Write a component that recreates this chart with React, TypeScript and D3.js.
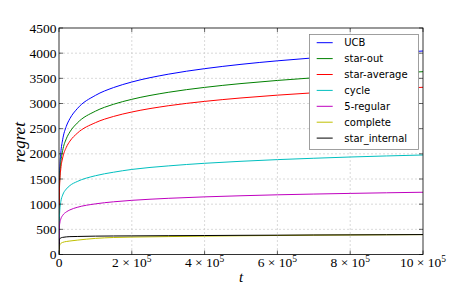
import React from "react";
import * as d3 from "d3";

const tValues = [0, 1000, 2000, 5000, 10000, 20000, 30000, 50000, 100000, 150000, 200000, 300000, 400000, 500000, 600000, 700000, 800000, 900000, 1000000];

const ucb = [0, 1398, 1663, 2014, 2279, 2545, 2700, 2896, 3161, 3317, 3427, 3582, 3692, 3778, 3848, 3907, 3958, 4003, 4043];
const starOut = [0, 1277, 1513, 1825, 2062, 2298, 2436, 2611, 2847, 2985, 3083, 3222, 3320, 3396, 3458, 3511, 3556, 3596, 3632];
const starAverage = [0, 1215, 1426, 1706, 1917, 2128, 2252, 2408, 2619, 2743, 2831, 2955, 3042, 3110, 3166, 3213, 3254, 3290, 3322];
const cycle = [0, 700, 860, 1050, 1180, 1300, 1370, 1450, 1565, 1635, 1690, 1760, 1812, 1852, 1885, 1912, 1937, 1958, 1977];
const fiveRegular = [0, 546, 615, 707, 776, 845, 886, 937, 1006, 1047, 1076, 1116, 1145, 1167, 1186, 1201, 1214, 1226, 1237];
const complete = [0, 150, 185, 220, 240, 258, 268, 285, 320, 338, 346, 356, 365, 372, 378, 384, 388, 392, 395];
const starInternal = [0, 290, 310, 330, 340, 350, 355, 358, 365, 368, 370, 374, 377, 381, 384, 388, 390, 393, 396];

const seriesNames = ["UCB", "star-out", "star-average", "cycle", "5-regular", "complete", "star_internal"];
const seriesValues = [ucb, starOut, starAverage, cycle, fiveRegular, complete, starInternal];
const seriesColors = ["#0000ff", "#008000", "#ff0000", "#00bfbf", "#bf00bf", "#bfbf00", "#000000"];

const xTicks = [0, 200000, 400000, 600000, 800000, 1000000];
const xTickMant = ["0", "2", "4", "6", "8", "10"];
const yTicks = [0, 500, 1000, 1500, 2000, 2500, 3000, 3500, 4000, 4500];

const W = 471, H = 284;
const L = 59, R = 423, T = 28, B = 254.5;

export default function App() {
  const x = d3.scaleLinear().domain([0, 1000000]).range([L, R]);
  const y = d3.scaleLinear().domain([0, 4500]).range([B, T]);
  const line = d3.line<number>()
    .x((_, i) => x(tValues[i]))
    .y((d) => y(d))
    .curve(d3.curveMonotoneX);

  const serif = "'Liberation Serif', 'DejaVu Serif', serif";
  const sans = "'DejaVu Sans', sans-serif";

  const legX = 309.5, legY = 34.5, legW = 109, legH = 115;
  const rowH = 15.9;

  return (
    <svg width={W} height={H} style={{ position: "absolute", left: 0, top: 0, background: "#fff" }}>
      <rect x={0} y={0} width={W} height={H} fill="#fff" />
      {/* grid */}
      <g stroke="#cfcfcf" strokeWidth={0.8} strokeDasharray="2,2">
        {xTicks.slice(1, -1).map((t) => (
          <line key={"gx" + t} x1={x(t)} x2={x(t)} y1={T} y2={B} />
        ))}
        {yTicks.slice(1, -1).map((t) => (
          <line key={"gy" + t} x1={L} x2={R} y1={y(t)} y2={y(t)} />
        ))}
      </g>
      <defs>
        <clipPath id="plotclip">
          <rect x={L} y={T} width={R - L} height={B - T} />
        </clipPath>
      </defs>
      <g clipPath="url(#plotclip)" fill="none" strokeWidth={1}>
        {seriesValues.map((vals, i) => (
          <path key={seriesNames[i]} d={line(vals) || ""} stroke={seriesColors[i]} />
        ))}
      </g>
      {/* frame */}
      <rect x={L} y={T} width={R - L} height={B - T} fill="none" stroke="#000" strokeWidth={0.8} />
      {/* ticks */}
      <g stroke="#000" strokeWidth={0.6}>
        {xTicks.map((t) => (
          <g key={"tx" + t}>
            <line x1={x(t)} x2={x(t)} y1={B} y2={B - 4} />
            <line x1={x(t)} x2={x(t)} y1={T} y2={T + 4} />
          </g>
        ))}
        {yTicks.map((t) => (
          <g key={"ty" + t}>
            <line x1={L} x2={L + 4} y1={y(t)} y2={y(t)} />
            <line x1={R} x2={R - 4} y1={y(t)} y2={y(t)} />
          </g>
        ))}
      </g>
      {/* y tick labels */}
      <g fontFamily={serif} fontSize={13.5} fill="#000" textAnchor="end">
        {yTicks.map((t) => (
          <text key={"yl" + t} x={L - 2.5} y={y(t) + 4.6}>{t}</text>
        ))}
      </g>
      {/* x tick labels */}
      <g fontFamily={serif} fontSize={13.5} fill="#000" textAnchor="middle">
        {xTicks.map((t, i) =>
          t === 0 ? (
            <text key={"xl" + t} x={x(t)} y={267}>0</text>
          ) : (
            <text key={"xl" + t} x={x(t)} y={267}>
              {xTickMant[i] + " \u00d7 10"}
              <tspan fontSize={9.5} dy={-5.5}>5</tspan>
            </text>
          )
        )}
      </g>
      {/* axis labels */}
      <text x={241} y={282} fontFamily={serif} fontStyle="italic" fontSize={15} textAnchor="middle">t</text>
      <text transform={`translate(25,${(T + B) / 2 + 1}) rotate(-90)`} fontFamily={serif} fontStyle="italic" fontSize={17} textAnchor="middle">regret</text>
      {/* legend */}
      <rect x={legX} y={legY} width={legW} height={legH} fill="#fff" stroke="#888" strokeWidth={0.8} />
      {seriesNames.map((n, i) => {
        const cy = 42.7 + i * rowH;
        return (
          <g key={"lg" + n}>
            <line x1={316.7} x2={332.7} y1={cy} y2={cy} stroke={seriesColors[i]} strokeWidth={1} />
            <text x={344.3} y={cy + 3.6} fontFamily={sans} fontSize={10} fill="#000">{n}</text>
          </g>
        );
      })}
    </svg>
  );
}
